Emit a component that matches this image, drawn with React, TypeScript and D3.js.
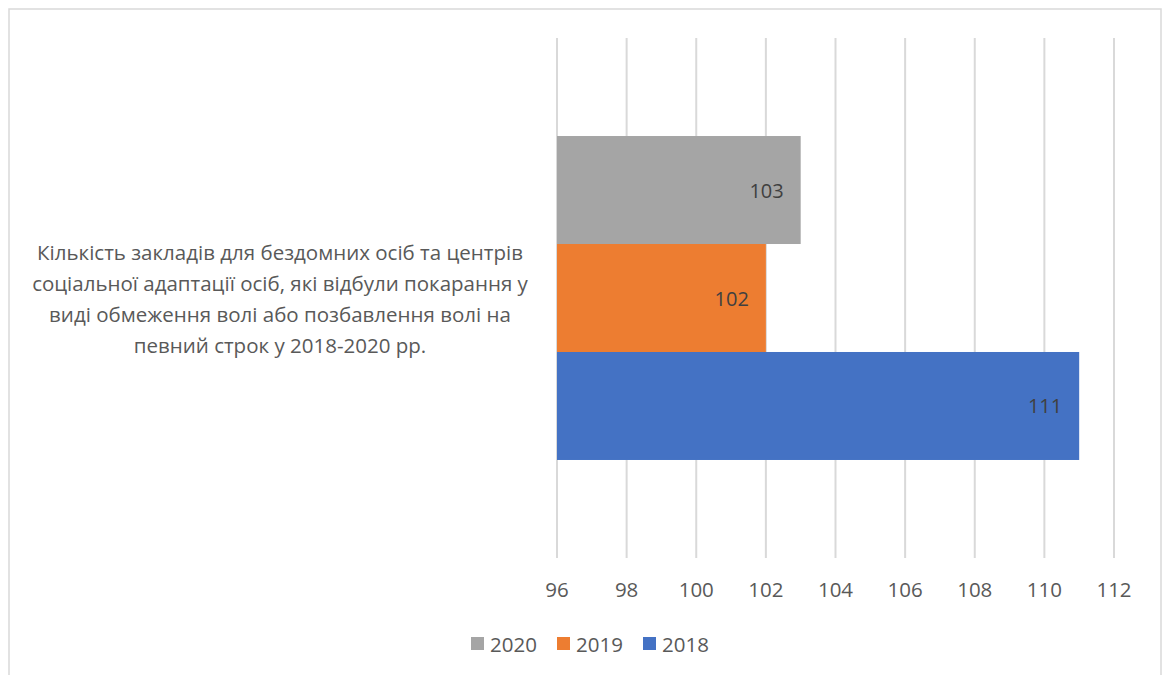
import React from "react";
import * as d3 from "d3";

const categories = ["Кількість закладів для бездомних осіб та центрів соціальної адаптації осіб, які відбули покарання у виді обмеження волі або позбавлення волі на певний строк у 2018-2020 рр."];
const categoryLines = [
  "Кількість закладів для бездомних осіб та центрів",
  "соціальної адаптації осіб, які відбули покарання у",
  "виді обмеження волі або позбавлення волі на",
  "певний строк у 2018-2020 рр.",
];
const seriesNames = ["2020", "2019", "2018"];
const seriesValues = [103, 102, 111];
const seriesColors = ["#a5a5a5", "#ed7d31", "#4472c4"];
const tickValues = [96, 98, 100, 102, 104, 106, 108, 110, 112];

const W = 1168;
const H = 675;
const FONT = "'Open Sans', 'Noto Sans', sans-serif";

export default function App() {
  const x = d3.scaleLinear().domain([96, 112]).range([557, 1114]);
  const yCat = d3.scaleBand().domain(categories).range([38, 558]);
  const bandTop = yCat(categories[0])!;
  const bandH = yCat.bandwidth();
  const inner = d3
    .scaleBand()
    .domain(seriesNames)
    .range([bandTop + bandH * 0.1885, bandTop + bandH * 0.8115]);
  const catCenter = bandTop + bandH / 2;
  const lineH = 31;

  const legendItems = [
    { name: "2020", x: 471 },
    { name: "2019", x: 557 },
    { name: "2018", x: 643 },
  ];

  return (
    <svg
      width={W}
      height={H}
      style={{ position: "absolute", left: 0, top: 0, background: "#fff" }}
    >
      <rect x={9} y={9} width={1152} height={700} fill="#fff" stroke="#d9d9d9" strokeWidth={1.5} />
      {tickValues.map((t) => (
        <line key={t} x1={x(t)} x2={x(t)} y1={38} y2={558} stroke="#d9d9d9" strokeWidth={2} />
      ))}
      {seriesNames.map((s, i) => (
        <rect
          key={s}
          x={x(96)}
          y={inner(s)!}
          width={x(seriesValues[i]) - x(96)}
          height={inner.bandwidth()}
          fill={seriesColors[i]}
        />
      ))}
      {seriesNames.map((s, i) => (
        <text
          key={"l" + s}
          x={x(seriesValues[i]) - 17}
          y={inner(s)! + inner.bandwidth() / 2}
          textAnchor="end"
          dominantBaseline="central"
          fontFamily={FONT}
          fontSize={20}
          fill="#404040"
        >
          {seriesValues[i]}
        </text>
      ))}
      {tickValues.map((t) => (
        <text
          key={"t" + t}
          x={x(t)}
          y={589}
          textAnchor="middle"
          dominantBaseline="central"
          fontFamily={FONT}
          fontSize={20.5}
          fill="#595959"
        >
          {t}
        </text>
      ))}
      {categoryLines.map((ln, i) => (
        <text
          key={"c" + i}
          x={280}
          y={catCenter + (i - (categoryLines.length - 1) / 2) * lineH}
          textAnchor="middle"
          dominantBaseline="central"
          fontFamily={FONT}
          fontSize={20.5}
          fill="#595959"
        >
          {ln}
        </text>
      ))}
      {legendItems.map((it) => {
        const i = seriesNames.indexOf(it.name);
        return (
          <g key={"lg" + it.name}>
            <rect x={it.x} y={637} width={13} height={13} fill={seriesColors[i]} />
            <text
              x={it.x + 19}
              y={643.5}
              dominantBaseline="central"
              fontFamily={FONT}
              fontSize={20.5}
              fill="#595959"
            >
              {it.name}
            </text>
          </g>
        );
      })}
    </svg>
  );
}
